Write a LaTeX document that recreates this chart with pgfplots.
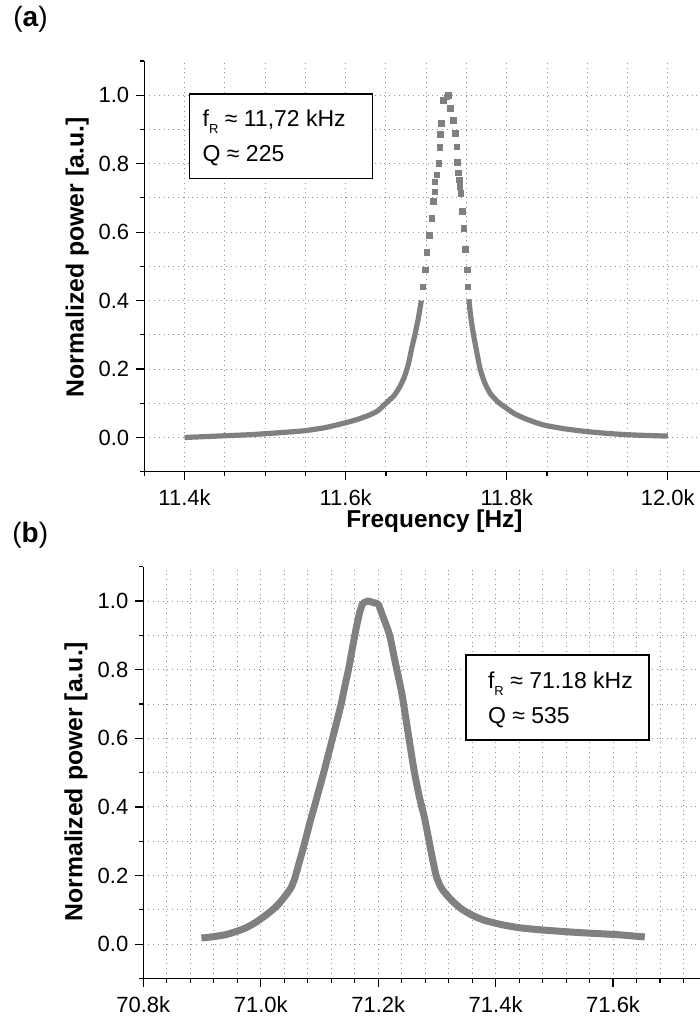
\documentclass[border=0pt]{standalone}
\usepackage{fontspec}
\setmainfont{Liberation Sans}
\usepackage{pgfplots}
\pgfplotsset{compat=1.18}

\definecolor{curve}{RGB}{128,128,128}
\definecolor{gridc}{RGB}{145,145,145}

\pgfplotsset{
  panel/.style={
    scale only axis,
    axis x line*=bottom, axis y line*=left,
    axis line style={-, line width=0.8pt},
    tick align=outside,
    major tick length=4pt, minor tick length=2pt,
    every tick/.style={line width=0.6pt, black},
    ymin=-0.1, ymax=1.1,
    ytick={0,0.2,0.4,0.6,0.8,1.0},
    minor ytick={0.1,0.3,0.5,0.7,0.9},
    extra y ticks={-0.1,1.1}, extra y tick labels={},
    extra y tick style={grid=none, major tick length=2pt},
    grid=both,
    major grid style={dotted, gridc, line width=0.45pt},
    minor grid style={dotted, gridc, line width=0.45pt},
    /pgf/number format/assume math mode=true,
    y tick label style={/pgf/number format/fixed, /pgf/number format/fixed zerofill,
      /pgf/number format/precision=1},
    x tick label style={yshift=-1.5pt},
    tick label style={font=\fontsize{11}{13}\selectfont},
    every axis y label/.style={rotate=90, anchor=base, inner sep=0pt,
      font=\fontsize{12.4}{14}\selectfont\bfseries},
    every axis x label/.style={anchor=north, inner sep=0pt,
      font=\fontsize{12.2}{14}\selectfont\bfseries},
  }
}

% (a) fundamental mode, kHz
\pgfplotstableread{
f       p
11.400  0.000
11.420  0.002
11.450  0.005
11.480  0.008
11.500  0.011
11.530  0.016
11.550  0.020
11.575  0.029
11.600  0.043
11.615  0.053
11.630  0.066
11.640  0.078
11.650  0.100
11.660  0.122
11.667  0.147
11.673  0.177
11.678  0.215
11.682  0.260
11.686  0.300
11.690  0.345
11.694  0.400
}\lineAleft
\pgfplotstableread{
f       p
11.696  0.440
11.699  0.490
11.701  0.540
11.704  0.590
11.707  0.640
11.709  0.690
11.7106 0.718
11.7110 0.747
11.7131 0.767
11.7156 0.800
11.7168 0.847
11.7177 0.886
11.7190 0.917
11.7211 0.985
11.7255 0.995
11.7273 1.000
11.7302 0.961
11.7335 0.927
11.7364 0.888
11.7380 0.849
11.7389 0.804
11.7401 0.773
11.7410 0.752
11.7417 0.733
11.7430 0.713
11.7450 0.660
11.7470 0.610
11.7490 0.550
11.7510 0.490
11.7520 0.440
}\peakA
\pgfplotstableread{
f       p
11.753  0.404
11.755  0.360
11.758  0.310
11.762  0.260
11.767  0.200
11.773  0.158
11.780  0.127
11.790  0.102
11.800  0.085
11.810  0.069
11.825  0.053
11.845  0.037
11.870  0.026
11.900  0.017
11.930  0.011
11.960  0.007
12.000  0.004
}\lineAright

% (b) higher mode, kHz
\pgfplotstableread{
f       p
70.899  0.018
70.920  0.022
70.941  0.028
70.960  0.038
70.974  0.047
70.990  0.062
71.006  0.081
71.020  0.100
71.032  0.120
71.045  0.148
71.052  0.166
71.058  0.192
71.065  0.235
71.074  0.290
71.083  0.350
71.092  0.405
71.100  0.455
71.108  0.505
71.115  0.552
71.123  0.605
71.130  0.652
71.137  0.700
71.143  0.750
71.150  0.805
71.156  0.862
71.163  0.925
71.169  0.970
71.174  0.993
71.183  1.000
71.192  0.995
71.200  0.991
71.208  0.955
71.214  0.928
71.220  0.897
71.228  0.830
71.240  0.733
71.250  0.626
71.256  0.560
71.262  0.498
71.270  0.430
71.279  0.367
71.285  0.315
71.290  0.270
71.295  0.228
71.299  0.198
71.305  0.172
71.312  0.153
71.325  0.128
71.340  0.105
71.358  0.086
71.380  0.070
71.410  0.057
71.440  0.048
71.475  0.042
71.540  0.034
71.605  0.028
71.654  0.021
}\modeB

\begin{document}
\begin{tikzpicture}
\useasboundingbox (0,0) rectangle (350pt,509pt);

\begin{axis}[panel,
  at={(72.15pt,273.15pt)}, anchor=south west,
  width=277.85pt, height=205.35pt,
  xmin=11.35, xmax=12.04,
  xtick={11.4,11.6,11.8,12.0},
  xticklabels={11.4k,11.6k,11.8k,12.0k},
  minor xtick={11.35,11.45,11.5,11.55,11.65,11.7,11.75,11.85,11.9,11.95},
  xlabel={Frequency [Hz]},
  xlabel style={at={(rel axis cs:0.522,0)}, yshift=-19pt},
  ylabel={Normalized power [a.u.]},
  ylabel style={at={(rel axis cs:0,0.522)}, yshift=30.4pt},
]
\addplot[curve, line width=2.6pt, line join=round, line cap=butt, smooth, tension=0.35] table[x=f,y=p] {\lineAleft};
\addplot[curve, only marks, mark=square*, mark size=1.4pt,
  mark options={draw=none, fill=curve}] table[x=f,y=p] {\peakA};
\addplot[curve, line width=2.6pt, line join=round, line cap=butt, smooth, tension=0.35] table[x=f,y=p] {\lineAright};
\end{axis}

\begin{axis}[panel,
  at={(71.65pt,19.75pt)}, anchor=south west,
  width=278.35pt, height=205.9pt,
  xmin=70.8, xmax=71.748,
  xtick={70.8,71.0,71.2,71.4,71.6},
  xticklabels={70.8k,71.0k,71.2k,71.4k,71.6k},
  minor xtick={70.84,70.88,70.92,70.96,71.04,71.08,71.12,71.16,71.24,71.28,71.32,71.36,71.44,71.48,71.52,71.56,71.64,71.68,71.72},
  ylabel={Normalized power [a.u.]},
  ylabel style={at={(rel axis cs:0,0.478)}, yshift=30.4pt},
]
\addplot[curve, line width=3.5pt, line join=round, line cap=butt, smooth, tension=0.35] table[x=f,y=p] {\modeB};
\end{axis}

% annotation boxes
\draw[line width=0.6pt, fill=white] (94.65pt,419.85pt) rectangle (186.15pt,462pt);
\node[anchor=base west, inner sep=0pt, font=\fontsize{11.5}{13}\selectfont]
  at (101.15pt,445.65pt) {f\raisebox{-3.5pt}{\fontsize{6.5}{7}\selectfont R} ≈ 11,72 kHz};
\node[anchor=base west, inner sep=0pt, font=\fontsize{11.5}{13}\selectfont]
  at (101.15pt,428.15pt) {Q ≈ 225};

\draw[line width=0.6pt, fill=white] (233pt,139pt) rectangle (324.5pt,181.5pt);
\node[anchor=base west, inner sep=0pt, font=\fontsize{11.5}{13}\selectfont]
  at (243.85pt,164.85pt) {f\raisebox{-3.5pt}{\fontsize{6.5}{7}\selectfont R} ≈ 71.18 kHz};
\node[anchor=base west, inner sep=0pt, font=\fontsize{11.5}{13}\selectfont]
  at (243.85pt,147.35pt) {Q ≈ 535};

% panel letters
\node[anchor=base west, inner sep=0pt, font=\fontsize{14}{16}\selectfont]
  at (6.5pt,495.5pt) {(\textbf{a})};
\node[anchor=base west, inner sep=0pt, font=\fontsize{14}{16}\selectfont]
  at (6pt,237.5pt) {(\textbf{b})};
\end{tikzpicture}
\end{document}
